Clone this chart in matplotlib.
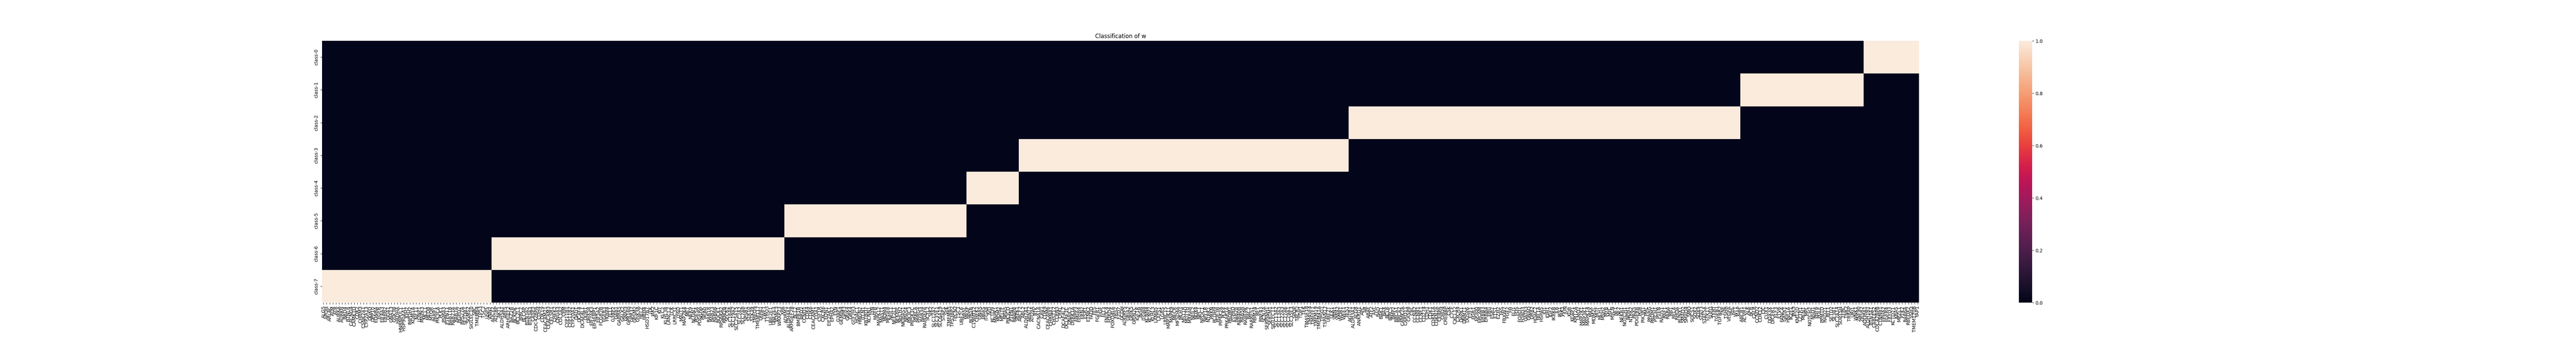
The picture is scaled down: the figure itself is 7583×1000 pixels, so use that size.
import numpy as np
import pandas as pd
import matplotlib
matplotlib.use("Agg")
import matplotlib.pyplot as plt
import seaborn as sns

# rows of the heatmap, top to bottom
class_names = ["class-0", "class-1", "class-2", "class-3",
               "class-4", "class-5", "class-6", "class-7"]

# genes of each class, in the left-to-right order of the columns
genes_class7 = ["ALG5", "APOH", "ARL4C", "ATM", "ATR", "AURKA", "AURKB", "BRD4",
                "BTNL8", "CACNG4", "CAMK1D", "CDK2", "CHRM3", "CSNK2A1", "CYP2A13",
                "DGKQ", "DPP10", "EDNRA", "EGFR", "EIF4A3", "ERBB2", "GGA1", "GNA13",
                "GSK3B", "HADHA", "HNRNPUL1", "HSP90AA1", "IDH2", "IMPDH2", "KDM1A",
                "KIF11", "LONP1", "MAPK3", "MCL1", "MED8", "MTOR", "PARP1", "PIK3CA",
                "PLK1", "PSMA3", "PTPN11", "RAB11B", "RAB27A", "RAB7A", "RGPD2",
                "RPS27A", "SETDB1", "SGMS2", "SIGLEC10", "SRC", "TMEM64", "TP53",
                "TSC2", "USP5", "VNN2"]

genes_class6 = ["ADCY2", "ADTRP", "AKT1", "ALDH5A1", "ARF5", "ARHGEF2", "BAZ2B",
                "BCKDK", "BCL2L1", "BIRC2", "BLCAP", "BTN3A2", "BTN3A3", "CASP3",
                "CDC42BPA", "CDH4", "CDK19", "CEACAM21", "CEACAM3", "CELSR1", "CHEK2",
                "CNGA3", "COL1A2", "CPM", "CYP11B1", "CYP11B2", "CYP20A1", "DAD1",
                "DCAF4", "DCAF4L1", "DDR1", "DHX58", "EIF2AK3", "EIF4EBP1", "EIF5A2",
                "FCGR2B", "FGFR3", "FKBP4", "FLT1", "G3BP2", "GAB1", "GABRA5", "GALK2",
                "GNAI3", "GPR160", "GPR37", "GPSM2", "GSK3A", "HELZ", "HRH4", "HSD17B7",
                "ITK", "JAK2", "KIF1C", "KIT", "KLC2", "KLHL38", "LANCL2", "LCK",
                "LRRC31", "LY6D", "MALT1", "MAP2K4", "MET", "NEK9", "NLGN1", "PDE5A",
                "PDGFRA", "PMVK", "PSPH", "RAB18", "RAB23", "RAB6B", "ROCK1", "RPS6KA2",
                "RRM2B", "SEC62", "SLC16A6", "SLC19A2", "SLC25A15", "SLC2A2", "SLC7A8",
                "SPSB1", "STK10", "STK39", "TMED9", "TMEM117", "TRPA1", "TWF1", "TYRO3",
                "UBE2E1", "UBE2E3", "VDAC3", "WRAP73", "XPA"]

genes_class5 = ["ADRM1", "ALDH4A1", "ARHGEF28", "BCL2", "BMPR1B", "BRD2", "CCND1",
                "CDK4", "CDK6", "CEACAM1", "COA1", "CSF1R", "CXCR6", "EDN1", "EIF2AK1",
                "EPHA7", "FYN", "G3BP1", "GEMIN4", "GPR3", "GRIK4", "GRK4", "GTF2H3",
                "HDAC1", "HMGN2", "ITLN1", "KBTBD7", "KCNN1", "LYN", "MAFB", "MAPK12",
                "MAST1", "MDM4", "MFGE8", "NEIL1", "NFE2L1", "NFKBIE", "NHLH2",
                "NKIRAS1", "NPAS4", "PIK3C3", "PIP5K1C", "PRKCA", "PRRG4", "RAB34",
                "RAPGEF6", "SCYL2", "SIK2", "SLC12A7", "SLC35E1", "SLC6A19", "STAP1",
                "SYK", "TMEM65", "TP53BP2", "TPCN2", "TSC1", "UBE2L6", "WASL"]

genes_class4 = ["BRAF", "BUB1B", "C19orf12", "CHEK1", "GNAS", "HRAS", "ITGA8", "IVD",
                "KCTD9", "MAPK1", "MDM2", "MELTF", "NRAS", "PIK3CD", "PTPN1", "RBBP8",
                "SRPK1"]

genes_class3 = ["ABCF2", "ABL2", "ALDH7A1", "ARNT2", "ATG9A", "BTK", "CACNA1A", "CAV1",
                "CDK9", "CEACAM6", "CHRNA1", "CHST12", "CLRN3", "CRKL", "DCAF4L2",
                "DCLRE1C", "DNAJC5", "DYRK1A", "ENPP3", "EPHB4", "ERN2", "ESR1", "ETNK2",
                "FADD", "FES", "FGFR1", "FIGF", "FLT3", "FNDC4", "FOXD4", "FOXD4L6",
                "FRS2", "FZD7", "GCDH", "ADGRF5", "GRIA2", "GRIK5", "GRIN2C", "IGF1R",
                "INSR", "ITGB8", "KCNN4", "KCNV2", "KLHL3", "LAMA5", "LATS1", "LGR5",
                "LRRC15", "MAP3K11", "MAPK9", "MECR", "MFSD4A", "MLH3", "MST1R", "MUTYH",
                "MXRA8", "NEIL2", "NOX4", "NPC1", "NPDC1", "NPY1R", "NTRK1", "PRKN",
                "PCDH9", "PDE3B", "PIP4K2A", "PLK4", "PRKAR1A", "PROM1", "PTPRD", "RAB28",
                "RAB40B", "RAB5B", "RABEPK", "RAC2", "RARRES1", "RBM24", "RET", "RNF43",
                "SCN7A", "SERPINH1", "SERTM1", "SIGLEC11", "SLC13A2", "SLC13A3",
                "SLC22A3", "SLC27A6", "SLC29A1", "SLC35E3", "SPOP", "TACR2", "TDP1",
                "TEK", "TM4SF18", "TM4SF4", "TMEFF1", "TMEM19", "TMEM41A", "TPSG1",
                "TSPAN17", "UBE2T", "ULK1", "VNN1", "VWA2", "WDR1", "WEE1", "YES1"]

genes_class2 = ["AGTR1", "ALDH3A1", "ALG8", "ANKRD1", "APC", "AR", "ARAF", "ATF2", "AXL",
                "BAD", "BAK1", "BAX", "BCL6", "BIRC5", "BMP2", "BRCA1", "BRCA2", "CAMK2A",
                "CARD11", "CASP8", "CBL", "CCNA2", "CCNB1", "CCNE1", "CD274", "CDH1",
                "CDK1", "CDKN1A", "CDKN2A", "CEBPA", "CHD4", "CREBBP", "CSK", "CTCF",
                "CXCL12", "CXCR4", "DAPK1", "DNMT1", "DUSP6", "E2F1", "EGR1", "EP300",
                "EPCAM", "ERBB3", "ERBB4", "ERG", "ESR2", "ETS1", "EZH2", "FAS", "FBXW7",
                "FGF2", "FH", "FLI1", "FOS", "FOXO1", "FOXO3", "GATA3", "GNAQ", "GRB2",
                "HDAC2", "HIF1A", "HSPA5", "ID1", "IDH1", "IGF2", "IKBKB", "IL6", "IRS1",
                "JAK1", "JUN", "KDR", "KEAP1", "KMT2A", "LMO2", "MAP2K1", "MAP3K1",
                "MAPK14", "MAX", "MDM2L", "MITF", "MLH1", "MSH2", "MYB", "MYC", "MYCN",
                "NF1", "NF2", "NFKB1", "NOTCH1", "NPM1", "NTRK2", "PAX5", "PDGFRB",
                "PGR", "PIK3R1", "PML", "PPARG", "PRDM1", "PTCH1", "PTEN", "RAD51",
                "RAF1", "RARA", "RB1", "RELA", "RHOA", "RUNX1", "SMAD2", "SMAD4", "SMO",
                "SOCS1", "SOX2", "SOX9", "STAT3", "STAT5A", "STK11", "SUFU", "TERT",
                "TGFB1", "TGFBR2", "TNF", "TSHR", "VEGFA", "VHL", "WT1", "XIAP"]

genes_class1 = ["ABCB1", "ACVR1", "ALK", "BCR", "CALR", "CCND2", "CDK12", "CIC", "CUX1",
                "DDX3X", "DICER1", "ELF3", "ETV6", "FANCA", "GATA1", "HNF1A", "IKZF1",
                "JAK3", "KMT2D", "LZTR1", "MEN1", "MPL", "NOTCH2", "NSD1", "PHF6",
                "POLE", "PPM1D", "RAD21", "RIT1", "SETD2", "SF3B1", "SLC7A14", "SUPT5H",
                "TFRC", "TNK2", "TRRAP", "URI1", "WNK1", "ZNF90", "ZRSR2"]

genes_class0 = ["ADORA1", "ALDH1B1", "BTN3A1", "CABLES2", "CDC42BPB", "CTNNB1", "EPHA2",
                "FGFR4", "FXYD3", "KCTD21", "KRAS", "MPZL1", "PTK2", "RAB6A", "RBFOX2",
                "SSH3", "TMEM170B", "YAP1"]

# columns go class-7 first ... class-0 last
blocks = [("class-7", genes_class7), ("class-6", genes_class6),
          ("class-5", genes_class5), ("class-4", genes_class4),
          ("class-3", genes_class3), ("class-2", genes_class2),
          ("class-1", genes_class1), ("class-0", genes_class0)]

cols = []
rows = []
for cname, genes in blocks:
    for g in genes:
        cols.append(g)
        rows.append(class_names.index(cname))

#one-hot membership matrix
mat = np.zeros((len(class_names), len(cols)))
mat[rows, np.arange(len(cols))] = 1
df = pd.DataFrame(mat, index=class_names, columns=cols)

fig = plt.figure(figsize=(75.83, 10), dpi=100)
ax = sns.heatmap(df, xticklabels=True, yticklabels=True)
ax.set_title("Classification of w")
fig.savefig("out.png", dpi=100)
